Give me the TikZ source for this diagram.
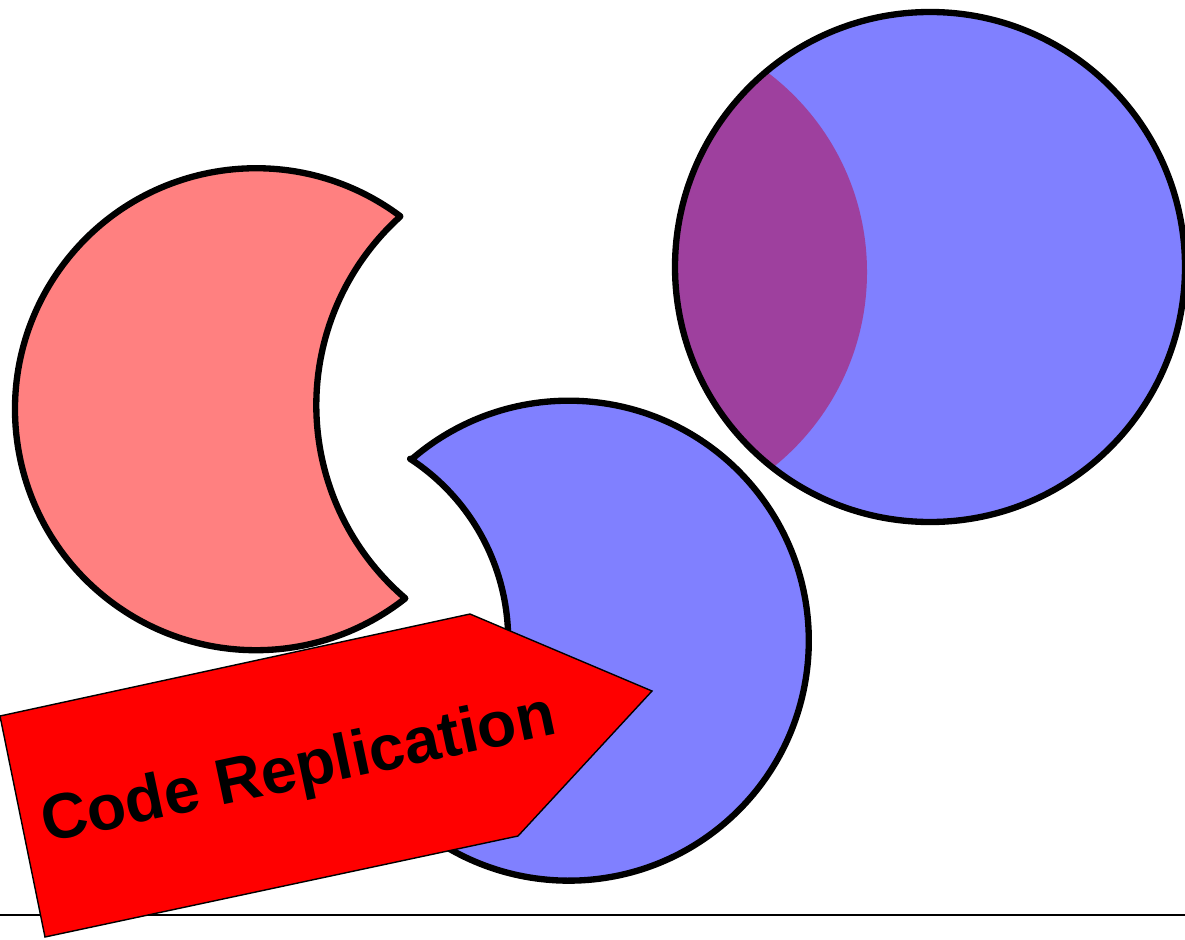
\documentclass[tikz,border=0pt]{standalone}
\usepackage{fontspec}
\setmainfont{Liberation Sans}
\usetikzlibrary{positioning}

\definecolor{pinkfill}{RGB}{255,128,128}
\definecolor{bluefill}{RGB}{128,128,255}
\definecolor{mixfill}{RGB}{158,64,158}

\begin{document}
\begin{tikzpicture}[
    x=0.02cm, y=-0.02cm,
    moon/.style={draw=black, line width=3.6pt, line join=round},
    banner/.style={draw=black, fill=red, line width=0.8pt, line join=miter},
    caption/.style={font=\bfseries\fontsize{36.5}{40}\selectfont, inner sep=0pt}
]
\useasboundingbox (0,0) rectangle (1185,939);

% footer rule
\draw[line width=1.1pt] (0,915) -- (1185,915);

% left crescent (bite on the right)
\coordinate (redtop) at (400,216);
\draw[moon, fill=pinkfill] (redtop)
    arc[start angle=-53.3, end angle=-308.3, radius=241]
    arc[start angle=130.5, end angle=228, radius=254] -- cycle;

% lower crescent (bite on the left)
\coordinate (bluetop) at (412,459);
\draw[moon, fill=bluefill] (bluetop)
    arc[start angle=-130.8, end angle=131.4, radius=240]
    arc[start angle=56.9, end angle=-56.9, radius=216] -- cycle;

% full circle with the overlap shaded
\coordinate (whole) at (930,267);
\fill[bluefill] (whole) circle[radius=255];
\begin{scope}
    \clip (whole) circle[radius=255];
    \fill[mixfill] (617,272) circle[radius=250];
\end{scope}
\draw[moon] (whole) circle[radius=255];

% arrow banner
\draw[banner] (0,716) -- (470,614) -- (652,691) -- (518,836) -- (45,937) -- cycle;
\node[caption, rotate=12] (label) at (299,772) {Code Replication};
\end{tikzpicture}
\end{document}
